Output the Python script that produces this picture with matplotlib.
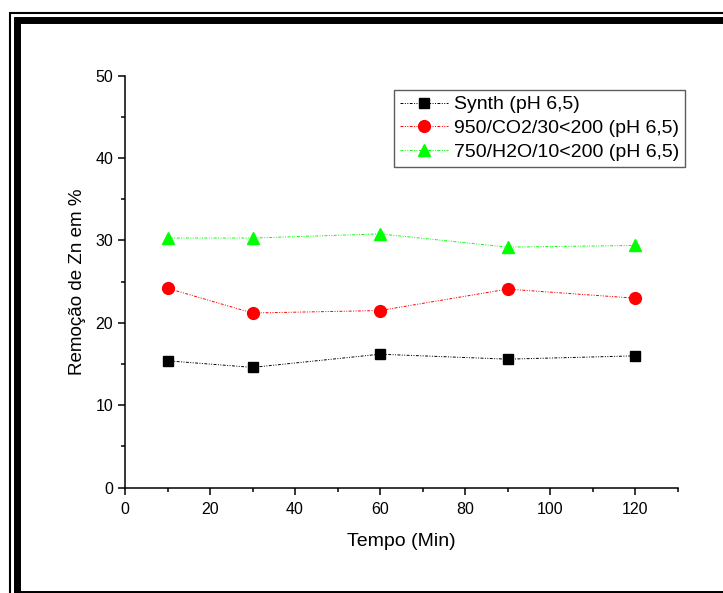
import matplotlib
matplotlib.use("Agg")
import matplotlib.pyplot as plt
from matplotlib.patches import Rectangle

plt.rcParams['font.family'] = ['Liberation Sans', 'DejaVu Sans']

tempo = [10, 30, 60, 90, 120]
synth = [15.4, 14.6, 16.2, 15.6, 16.0]
co2 = [24.2, 21.2, 21.5, 24.1, 23.0]
h2o = [30.3, 30.3, 30.8, 29.2, 29.4]
labels = ["Synth (pH 6,5)", "950/CO2/30<200 (pH 6,5)", "750/H2O/10<200 (pH 6,5)"]

W, H = 723, 593
fig = plt.figure(figsize=(W / 100, H / 100), dpi=100)

def px(x0, y0, x1, y1):
    return (x0 / W, 1 - y1 / H, (x1 - x0) / W, (y1 - y0) / H)

# frame (thin outer + thick inner), extending past right/bottom edges
l, b, w, h = px(10, 12.5, 760, 620)
fig.add_artist(Rectangle((l, b), w, h, transform=fig.transFigure,
                         fill=False, edgecolor='black', linewidth=1.5))
l, b, w, h = px(17, 19.5, 760, 593.5)
fig.add_artist(Rectangle((l, b), w, h, transform=fig.transFigure,
                         fill=False, edgecolor='black', linewidth=5.0))

ax = fig.add_axes([125 / W, 1 - 487.7 / H, 552.5 / W, 412 / H])
ls = (0, (3, 1.5, 1, 1.5, 1, 1.5))
ax.plot(tempo, synth, color='black', linestyle=ls, linewidth=0.7,
        marker='s', markersize=7, markeredgecolor='black', label=labels[0])
ax.plot(tempo, co2, color='red', linestyle=ls, linewidth=0.7,
        marker='o', markersize=8.5, label=labels[1])
ax.plot(tempo, h2o, color='#00ff00', linestyle=ls, linewidth=0.7,
        marker='^', markersize=9, label=labels[2])

ax.set_xlim(0, 130)
ax.set_ylim(0, 50)
ax.set_xticks([0, 20, 40, 60, 80, 100, 120])
ax.set_xticks(range(10, 131, 20), minor=True)
ax.set_yticks([0, 10, 20, 30, 40, 50])
ax.set_yticks(range(5, 50, 10), minor=True)
for s in ['top', 'right']:
    ax.spines[s].set_visible(False)
for s in ['left', 'bottom']:
    ax.spines[s].set_linewidth(1.1)
ax.tick_params(which='major', direction='out', length=5, width=1.1, labelsize=11.5)
ax.tick_params(axis='x', which='major', pad=5)
ax.tick_params(which='minor', direction='out', length=3, width=1.1)
ax.set_xlabel("Tempo (Min)", fontsize=14, labelpad=12)
ax.set_ylabel("Remoção de Zn em %", fontsize=13.5, labelpad=7)

leg = ax.legend(loc='upper left', bbox_to_anchor=((394 - 125) / 552.5, (487.7 - 90) / 412),
                fontsize=14, frameon=True, fancybox=False, borderpad=0.3,
                labelspacing=0.32, handlelength=2.5, handletextpad=0.3,
                borderaxespad=0)
leg.get_frame().set_edgecolor('#333333')
leg.get_frame().set_linewidth(1.0)

fig.savefig("out.png", dpi=100)
